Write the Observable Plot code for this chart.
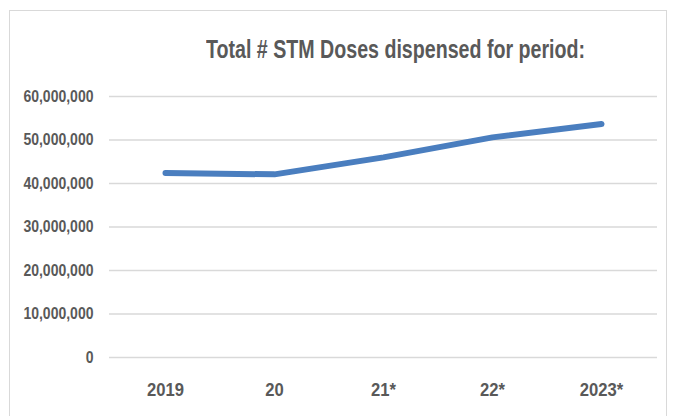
<!DOCTYPE html>
<html>
<head>
<meta charset="utf-8">
<script src="https://cdn.jsdelivr.net/npm/d3@7"></script>
<script src="https://cdn.jsdelivr.net/npm/@observablehq/plot@0.6"></script>
<style>
  html, body { margin: 0; padding: 0; background: #fff; }
  #wrap { position: relative; width: 678px; height: 416px; overflow: hidden; }
  #frame { position: absolute; left: 9px; top: 10px; width: 658px; height: 420px; border: 1.5px solid #d9d9d9; box-sizing: border-box; }
  #title { position: absolute; left: 206px; top: 34px; white-space: nowrap; transform-origin: 0 0; font-family: "Liberation Sans", sans-serif; font-weight: bold; font-size: 25px; line-height: 30px; color: #595959; }
  #chart { position: absolute; left: 0; top: 0; }
</style>
</head>
<body>
<div id="wrap">
  <div id="frame"></div>
  <div id="title">Total # STM Doses dispensed for period:</div>
  <div id="chart"></div>
</div>
<script>
const periods = ["2019", "20", "21*", "22*", "2023*"];
const doses = [42400000, 42100000, 46000000, 50600000, 53700000];
const yTicks = [0, 10000000, 20000000, 30000000, 40000000, 50000000, 60000000];

const data = periods.map((p, i) => ({period: p, doses: doses[i]}));
const fmt = d3.format(",");

const chart = Plot.plot({
  width: 678,
  height: 416,
  marginLeft: 109,
  marginRight: 21,
  marginTop: 96,
  marginBottom: 59,
  style: { fontFamily: "'Liberation Sans', sans-serif", background: "transparent", color: "#595959" },
  x: { type: "point", domain: periods, padding: 0.5, label: null },
  y: { domain: [0, 60000000], label: null },
  marks: [
    Plot.ruleY(yTicks, { stroke: "#d9d9d9", strokeWidth: 1.6 }),
    Plot.axisY(yTicks, { tickSize: 0, tickPadding: 16, tickFormat: fmt, fontSize: 16.5, fontWeight: "bold", fill: "#595959", label: null }),
    Plot.axisX(periods, { tickSize: 0, tickPadding: 25, fontSize: 18.5, fontWeight: "bold", fill: "#595959", label: null }),
    Plot.line(data, { x: "period", y: "doses", stroke: "#4a7ebf", strokeWidth: 6, curve: "linear", strokeLinecap: "round", strokeLinejoin: "round" })
  ]
});
document.getElementById("chart").appendChild(chart);

// condensed look (Calibri-like) via horizontal scaling of the label glyphs
function squeeze(sel, k) {
  d3.select(chart).selectAll(sel).each(function() {
    const t = this.getAttribute("transform") || "";
    this.setAttribute("transform", t + ` scale(${k},1)`);
  });
}
squeeze('g[aria-label="y-axis tick label"] text', 0.85);
squeeze('g[aria-label="x-axis tick label"] text', 0.9);

const title = document.getElementById("title");
const w = title.getBoundingClientRect().width;
title.style.transform = `scaleX(${379 / w})`;
</script>
</body>
</html>
